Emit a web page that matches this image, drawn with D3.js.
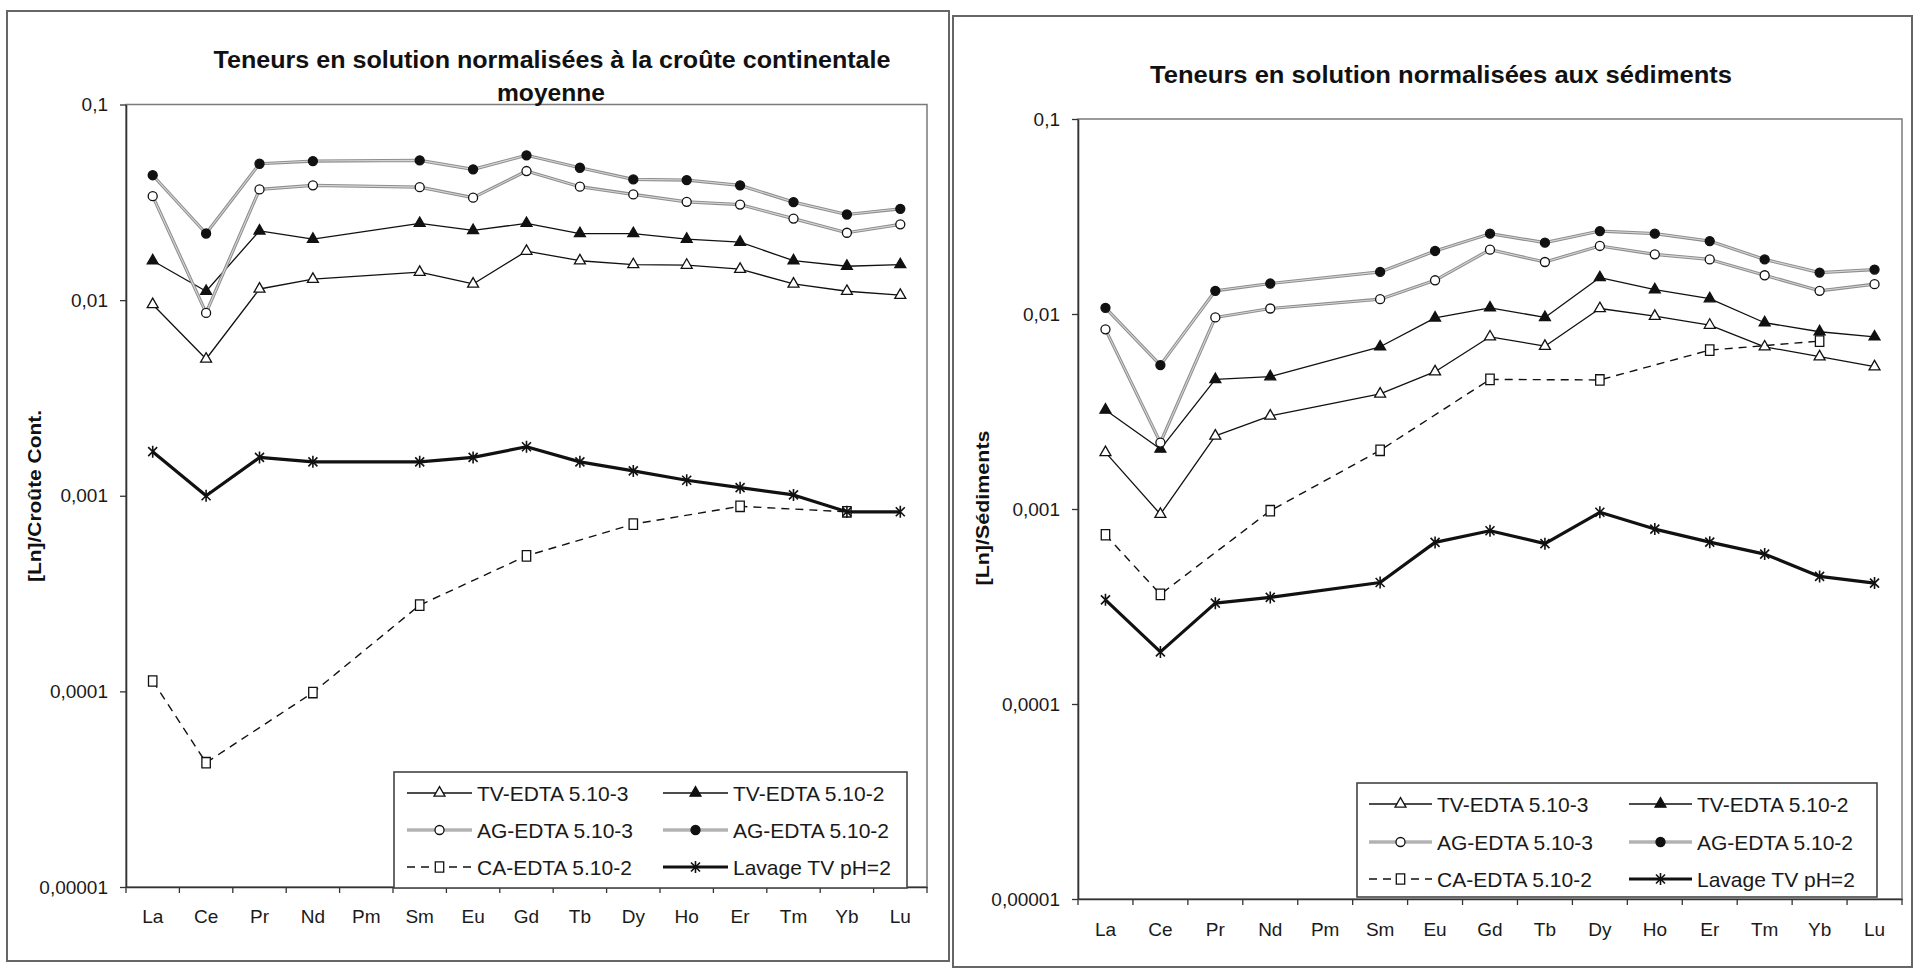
<!DOCTYPE html>
<html><head><meta charset="utf-8">
<script src="https://cdn.jsdelivr.net/npm/d3@7"></script>
<style>
html,body{margin:0;padding:0;background:#fff;}
svg{display:block;font-family:"Liberation Sans",Arial,sans-serif;}
</style>
</head><body>
<svg id="chart" width="1917" height="969"></svg>
<script>
// ---------- DATA ----------
const categories = ["La","Ce","Pr","Nd","Pm","Sm","Eu","Gd","Tb","Dy","Ho","Er","Tm","Yb","Lu"];
const yTickValues = [0.1, 0.01, 0.001, 0.0001, 0.00001];
const yTickLabels = ["0,1","0,01","0,001","0,0001","0,00001"];
const seriesNames = ["TV-EDTA 5.10-3","TV-EDTA 5.10-2","AG-EDTA 5.10-3","AG-EDTA 5.10-2","CA-EDTA 5.10-2","Lavage TV pH=2"];

// Left chart: normalised to mean continental crust
const titleCrust = ["Teneurs en solution normalisées à la croûte continentale", "moyenne"];
const yTitleCrust = "[Ln]/Croûte Cont.";
const tv3Crust = [0.0095, 0.0050, 0.0114, 0.0128, null, 0.0139, 0.0121, 0.0178, 0.0159, 0.0152, 0.0151, 0.0144, 0.0121, 0.0111, 0.0106];
const tv2Crust = [0.0159, 0.0111, 0.0226, 0.0205, null, 0.0247, 0.0227, 0.0247, 0.0219, 0.0219, 0.0205, 0.0198, 0.0159, 0.0149, 0.0152];
const ag3Crust = [0.0340, 0.0086, 0.0368, 0.0386, null, 0.0378, 0.0334, 0.0457, 0.0380, 0.0347, 0.0318, 0.0308, 0.0261, 0.0221, 0.0244];
const ag2Crust = [0.0435, 0.0219, 0.0498, 0.0514, null, 0.0518, 0.0466, 0.0550, 0.0475, 0.0414, 0.0411, 0.0386, 0.0317, 0.0274, 0.0293];
const caCrust  = [0.000113, 0.0000432, null, 0.0000986, null, 0.000276, null, 0.000493, null, 0.000716, null, 0.000883, null, 0.000828, null];
const lavCrust = [0.00168, 0.00100, 0.00157, 0.00149, null, 0.00149, 0.00157, 0.00178, 0.00149, 0.00134, 0.00120, 0.00110, 0.00101, 0.000828, 0.000828];

// Right chart: normalised to sediments
const titleSed = ["Teneurs en solution normalisées aux sédiments"];
const yTitleSed = "[Ln]/Sédiments";
const tv3Sed = [0.00195, 0.00094, 0.00237, 0.00300, null, 0.00389, 0.00506, 0.00764, 0.00684, 0.01067, 0.00975, 0.00877, 0.00679, 0.00604, 0.00537];
const tv2Sed = [0.00322, 0.00203, 0.00462, 0.00477, null, 0.00679, 0.00955, 0.01076, 0.00960, 0.01538, 0.01334, 0.01199, 0.00902, 0.00811, 0.00764];
const ag3Sed = [0.00834, 0.00219, 0.00960, 0.01067, null, 0.01191, 0.01489, 0.02138, 0.01848, 0.02233, 0.02023, 0.01905, 0.01580, 0.01315, 0.01422];
const ag2Sed = [0.01076, 0.00547, 0.01315, 0.01433, null, 0.01644, 0.02105, 0.02582, 0.02322, 0.02663, 0.02582, 0.02366, 0.01905, 0.01630, 0.01690];
const caSed  = [0.000738, 0.000365, null, 0.00098, null, 0.00200, null, 0.00462, null, 0.00459, null, 0.00653, null, 0.00726, null];
const lavSed = [0.000342, 0.000185, 0.000329, 0.000352, null, 0.000420, 0.000674, 0.000774, 0.000664, 0.000962, 0.000789, 0.000676, 0.000587, 0.000451, 0.000417];

// ---------- STYLES ----------
const seriesStyles = [
  {stroke:"#111", width:1.3, dash:null, marker:"triangle", fill:"#fff"},
  {stroke:"#111", width:1.3, dash:null, marker:"triangle", fill:"#111"},
  {stroke:"#8e8e8e", width:3.2, inner:"#d6d6d6", dash:null, marker:"circle", fill:"#fff"},
  {stroke:"#8e8e8e", width:3.2, inner:"#d6d6d6", dash:null, marker:"circle", fill:"#111"},
  {stroke:"#111", width:1.4, dash:"8,6", marker:"square", fill:"#fff"},
  {stroke:"#111", width:3.2, dash:null, marker:"star", fill:"none"}
];

const svg = d3.select("#chart");
svg.append("rect").attr("width",1917).attr("height",969).attr("fill","#fff");

function markerPath(type){
  if(type==="triangle") return d3.symbol().type(d3.symbolTriangle).size(52)();
  if(type==="circle") return d3.symbol().type(d3.symbolCircle).size(64)();
  if(type==="square") return "M-4.2,-5.2H4.2V5.2H-4.2Z";
  return "M-4.5,-4.5L4.5,4.5M-4.5,4.5L4.5,-4.5M0,-6V6";
}

function drawMarker(g, type, st, x, y){
  const p = g.append("path").attr("d", markerPath(type)).attr("transform",`translate(${x},${y})`);
  if(type==="star"){
    p.attr("fill","none").attr("stroke","#111").attr("stroke-width",1.6);
  } else {
    p.attr("fill", st.fill).attr("stroke","#111").attr("stroke-width",1.3);
  }
}

function drawPanel(cfg, values, titleLines, yTitle){
  const g = svg.append("g");
  // panel frame
  g.append("rect").attr("x",cfg.frame[0]).attr("y",cfg.frame[1])
    .attr("width",cfg.frame[2]-cfg.frame[0]).attr("height",cfg.frame[3]-cfg.frame[1])
    .attr("fill","none").attr("stroke","#666").attr("stroke-width",2);

  const x = d3.scaleBand().domain(categories).range([cfg.plot.l, cfg.plot.r]);
  const y = d3.scaleLog().domain([1e-5, 0.1]).range([cfg.plot.b, cfg.plot.t]);
  const xc = c => x(c) + x.bandwidth()/2;

  // plot area border
  g.append("rect").attr("x",cfg.plot.l).attr("y",cfg.plot.t)
    .attr("width",cfg.plot.r-cfg.plot.l).attr("height",cfg.plot.b-cfg.plot.t)
    .attr("fill","none").attr("stroke","#7a7a7a").attr("stroke-width",1.5);

  // titles
  titleLines.forEach((t,i)=>{
    g.append("text").attr("x",cfg.title[i].x).attr("y",cfg.title[i].y)
      .attr("text-anchor","middle").attr("font-weight","bold").attr("font-size",23)
      .attr("fill","#111")
      .attr("textLength",cfg.title[i].len).attr("lengthAdjust","spacingAndGlyphs")
      .text(t);
  });

  // y axis title
  g.append("text").attr("transform",`translate(${cfg.yTitle.x},${cfg.yTitle.y}) rotate(-90)`)
    .attr("text-anchor","middle").attr("dominant-baseline","central")
    .attr("font-weight","bold").attr("font-size",19).attr("fill","#111")
    .attr("textLength",cfg.yTitle.len).attr("lengthAdjust","spacingAndGlyphs")
    .text(yTitle);

  // y axis
  const yAxis = d3.axisLeft(y).tickValues(yTickValues)
    .tickFormat(d => yTickLabels[yTickValues.indexOf(d)])
    .tickSize(6).tickSizeOuter(0).tickPadding(12);
  const ya = g.append("g").attr("transform",`translate(${cfg.plot.l},0)`).call(yAxis);
  ya.select(".domain").attr("stroke","#333").attr("stroke-width",1.6);
  ya.selectAll(".tick line").attr("stroke","#333").attr("stroke-width",1.3);
  ya.selectAll("text").attr("font-size",19).attr("fill","#1a1a1a").attr("font-family","Liberation Sans, Arial, sans-serif");

  // x axis (labels centred in bands)
  const xAxis = d3.axisBottom(x).tickSize(0).tickSizeOuter(0).tickPadding(cfg.xPad);
  const xa = g.append("g").attr("transform",`translate(0,${cfg.plot.b})`).call(xAxis);
  xa.select(".domain").attr("stroke","#333").attr("stroke-width",1.6);
  xa.selectAll("text").attr("font-size",19).attr("fill","#1a1a1a").attr("font-family","Liberation Sans, Arial, sans-serif");
  const bounds = categories.map(c => x(c)).concat([x.range()[1]]);
  g.append("g").selectAll("line").data(bounds).join("line")
    .attr("x1",d=>d).attr("x2",d=>d).attr("y1",cfg.plot.b).attr("y2",cfg.plot.b+6)
    .attr("stroke","#333").attr("stroke-width",1.3);

  // series
  values.forEach((vals,si)=>{
    const st = seriesStyles[si];
    const pts = categories.map((c,i)=>({c, v: vals[i]})).filter(d => d.v !== null);
    const line = d3.line().x(d=>xc(d.c)).y(d=>y(d.v));
    g.append("path").datum(pts).attr("d", line).attr("fill","none")
      .attr("stroke", st.stroke).attr("stroke-width", st.width)
      .attr("stroke-dasharray", st.dash).attr("stroke-linejoin","round");
    if(st.inner){
      g.append("path").datum(pts).attr("d", line).attr("fill","none")
        .attr("stroke", st.inner).attr("stroke-width", 1.1).attr("stroke-linejoin","round");
    }
    const mg = g.append("g");
    pts.forEach(d => drawMarker(mg, st.marker, st, xc(d.c), y(d.v)));
  });

  // legend
  const L = cfg.legend;
  const lg = g.append("g");
  lg.append("rect").attr("x",L.x).attr("y",L.y).attr("width",L.w).attr("height",L.h)
    .attr("fill","#fff").attr("stroke","#444").attr("stroke-width",1.6);
  seriesNames.forEach((name,i)=>{
    const col = i % 2, row = Math.floor(i/2);
    const st = seriesStyles[i];
    const ly = L.rows[row];
    const lx0 = L.cols[col], lx1 = lx0 + L.sample;
    lg.append("line").attr("x1",lx0).attr("x2",lx1).attr("y1",ly).attr("y2",ly)
      .attr("stroke",st.stroke).attr("stroke-width",st.width).attr("stroke-dasharray",st.dash);
    if(st.inner){
      lg.append("line").attr("x1",lx0).attr("x2",lx1).attr("y1",ly).attr("y2",ly)
        .attr("stroke",st.inner).attr("stroke-width",1.1);
    }
    drawMarker(lg, st.marker, st, (lx0+lx1)/2, ly);
    lg.append("text").attr("x",lx1+5).attr("y",ly).attr("dy","0.36em")
      .attr("font-size",21).attr("fill","#1a1a1a").text(name);
  });
}

drawPanel({
  frame:[7,11,949,961],
  plot:{l:126, r:927, t:104.5, b:887},
  title:[{x:552, y:68, len:677},{x:551, y:101, len:108}],
  yTitle:{x:34, y:496, len:172},
  xPad:23,
  legend:{x:394, y:772, w:513, h:116, rows:[793,830,867], cols:[407,663], sample:65}
}, [tv3Crust, tv2Crust, ag3Crust, ag2Crust, caCrust, lavCrust], titleCrust, yTitleCrust);

drawPanel({
  frame:[953,16,1912,967],
  plot:{l:1078, r:1902, t:119, b:899},
  title:[{x:1441, y:83, len:582}],
  yTitle:{x:982, y:508, len:155},
  xPad:24,
  legend:{x:1357, y:783, w:520, h:114, rows:[804,842,879], cols:[1369,1629], sample:63}
}, [tv3Sed, tv2Sed, ag3Sed, ag2Sed, caSed, lavSed], titleSed, yTitleSed);
</script>
</body></html>
